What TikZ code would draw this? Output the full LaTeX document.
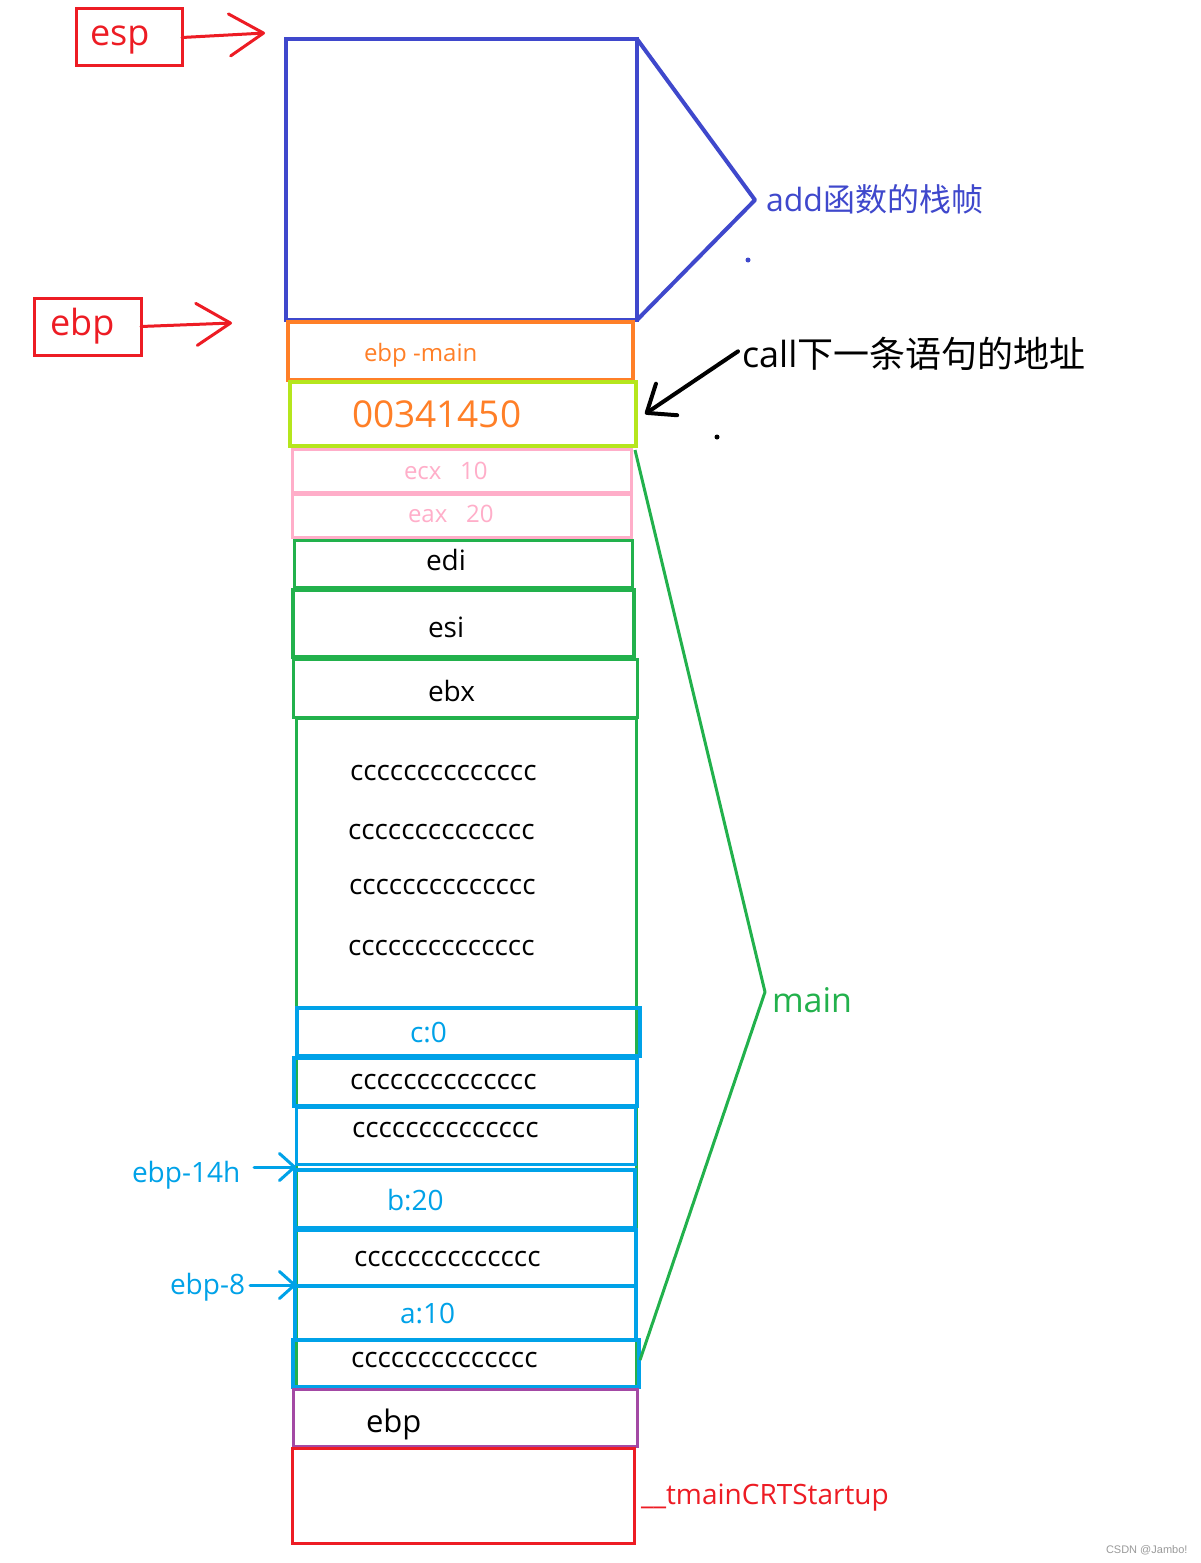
\documentclass[tikz,border=0pt]{standalone}
\usepackage{fontspec}
\setmainfont{Open Sans}
\newfontfamily\cjk{Noto Sans CJK SC}
\newfontfamily\wmfont{Liberation Sans}
\usetikzlibrary{arrows.meta,fit}
\definecolor{pred}{HTML}{ED1C24}
\definecolor{pindigo}{HTML}{3F48CC}
\definecolor{porange}{HTML}{FF7F27}
\definecolor{plime}{HTML}{B5E61D}
\definecolor{ppink}{HTML}{FFAEC9}
\definecolor{pgreen}{HTML}{22B14C}
\definecolor{psky}{HTML}{00A2E8}
\definecolor{ppurple}{HTML}{A349A4}
\definecolor{wmgray}{HTML}{9A9A9A}
\newcommand{\fs}[1]{\fontsize{#1}{#1}\selectfont}
\begin{document}
\begin{tikzpicture}[x=1pt,y=-1pt,
  box/.style={draw, rectangle, inner sep=0pt, outer sep=0pt},
  lbl/.style={anchor=base west, inner sep=0pt, outer sep=0pt},
  redarrow/.style={pred, line width=3pt, line cap=round, -{Straight Barb[length=34pt,width=42pt,round]}},
  skyarrow/.style={psky, line width=3pt, line cap=round, -{Straight Barb[length=15pt,width=27pt,round]}},
  blackarrow/.style={black, line width=4pt, line cap=round, -{Straight Barb[length=24pt,width=38pt,round]}},
  dot/.style={circle, fill, inner sep=0pt, minimum size=5pt}]
\useasboundingbox[fill=white] (0,0) rectangle (1201,1563);

% ---- left red labels
\node[box, pred, line width=3pt, fit={(76,9) (182,66)}] (espbox) {};
\node[lbl, text=pred, font=\fs{36}] (esptxt) at (90,46) {esp};
\coordinate (esptip) at (265,33);
\draw[redarrow] (espbox.east) -- (esptip);

\node[box, pred, line width=3pt, fit={(34,298) (141,355)}] (ebpbox) {};
\node[lbl, text=pred, font=\fs{36}] (ebptxt) at (50,335) {ebp};
\coordinate (ebptip) at (232,323);
\draw[redarrow] (ebpbox.east) -- (ebptip);

% ---- add frame
\node[box, pindigo, line width=4pt, fit={(286,39) (637,320)}] (addframe) {};
\coordinate (addtip) at (755,200);
\draw[pindigo, line width=4pt, line join=round] (addframe.north east) -- (addtip) -- (addframe.south east);
\node[lbl, text=pindigo, font=\fs{32}] (addtxt) at (766,211) {add{\cjk 函数的栈帧}};
\node[dot, pindigo] (bluedot) at (748,260) {};

% ---- saved ebp and return address
\node[box, porange, line width=4pt, fit={(288,322) (633,380)}] (mainebp) {};
\node[lbl, text=porange, font=\fs{24}] (mainebptxt) at (364,361) {ebp -main};

\node[box, plime, line width=4pt, fit={(290,382) (636,446)}] (retaddr) {};
\node[lbl, text=porange, font=\fs{37}] (retaddrtxt) at (352,427) {00341450};

\node[lbl, font=\fs{36}] (calltxt) at (742,367) {call{\cjk 下一条语句的地址}};
\coordinate (calltip) at (645,414);
\draw[blackarrow] (calltxt.west) ++(-4,-2) coordinate (callstart) -- (calltip);
\node[dot, black] (blackdot) at (717,437) {};

% ---- pushed registers
\node[box, ppink, line width=3pt, fit={(292,449) (631,492)}] (ecx) {};
\node[lbl, text=ppink, font=\fs{24}] (ecxtxt) at (404,479) {ecx~~~10};
\node[box, ppink, line width=3pt, fit={(292,494) (631,537)}] (eax) {};
\node[lbl, text=ppink, font=\fs{24}] (eaxtxt) at (408,522) {eax~~~20};

% ---- main frame (green)
\node[box, pgreen, line width=3pt, fit={(294,540) (632,587)}] (edi) {};
\node[lbl, font=\fs{28}] (editxt) at (426,570) {edi};
\node[box, pgreen, line width=4pt, fit={(293,590) (634,657)}] (esi) {};
\node[lbl, font=\fs{28}] (esitxt) at (428,637) {esi};
\node[box, pgreen, line width=3pt, fit={(293,659) (637,717)}] (ebx) {};
\node[lbl, font=\fs{28}] (ebxtxt) at (428,701) {ebx};
\node[box, pgreen, line width=3pt, fit={(296,718) (636,1386)}] (locals) {};
\node[lbl, font=\fs{28}] (cc1) at (350,780) {cccccccccccccc};
\node[lbl, font=\fs{28}] (cc2) at (348,839) {cccccccccccccc};
\node[lbl, font=\fs{28}] (cc3) at (349,894) {cccccccccccccc};
\node[lbl, font=\fs{28}] (cc4) at (348,955) {cccccccccccccc};

% ---- local variables (sky blue)
\node[box, psky, line width=4pt, fit={(297,1008) (640,1056)}] (cvar) {};
\node[lbl, text=psky, font=\fs{28}] (cvartxt) at (410,1042) {c:0};
\node[box, psky, line width=4pt, fit={(294,1058) (637,1106)}] (pad1) {};
\node[lbl, font=\fs{28}] (pad1txt) at (350,1089) {cccccccccccccc};
\node[box, psky, line width=3pt, fit={(296,1107) (635,1164)}] (pad2) {};
\node[lbl, font=\fs{28}] (pad2txt) at (352,1137) {cccccccccccccc};
\node[box, psky, line width=4pt, fit={(295,1170) (635,1228)}] (bvar) {};
\node[lbl, text=psky, font=\fs{28}] (bvartxt) at (387,1210) {b:20};
\node[box, psky, line width=4pt, fit={(295,1230) (636,1286)}] (pad3) {};
\node[lbl, font=\fs{28}] (pad3txt) at (354,1266) {cccccccccccccc};
\node[box, psky, line width=4pt, fit={(295,1286) (636,1340)}] (avar) {};
\node[lbl, text=psky, font=\fs{28}] (avartxt) at (400,1323) {a:10};
\node[box, psky, line width=4pt, fit={(293,1340) (639,1387)}] (pad4) {};
\node[lbl, font=\fs{28}] (pad4txt) at (351,1367) {cccccccccccccc};

% ---- ebp offsets
\node[lbl, text=psky, font=\fs{28}] (e14) at (132,1182) {ebp-14h};
\coordinate (e14start) at (254,1167);
\coordinate (e14tip) at (296,1167);
\draw[skyarrow] (e14start) -- (e14tip);
\node[lbl, text=psky, font=\fs{28}] (e8) at (170,1294) {ebp-8};
\coordinate (e8start) at (250,1285);
\coordinate (e8tip) at (296,1285);
\draw[skyarrow] (e8start) -- (e8tip);

% ---- main brace
\coordinate (mainstart) at (635,450);
\coordinate (maintip) at (765,992);
\coordinate (mainend) at (640,1360);
\draw[pgreen, line width=3pt, line join=round] (mainstart) -- (maintip) -- (mainend);
\node[lbl, text=pgreen, font=\fs{34}] (maintxt) at (772,1012) {main};

% ---- caller frames
\node[box, ppurple, line width=3pt, fit={(293,1389) (637,1446)}] (oldebp) {};
\node[lbl, font=\fs{31}] (oldebptxt) at (366,1432) {ebp};
\node[box, pred, line width=3pt, fit={(292,1448) (634,1543)}] (crt) {};
\node[lbl, text=pred, font=\fs{28}] (crttxt) at (641,1504) {\_\_tmainCRTStartup};

% ---- watermark
\node[lbl, text=wmgray, font=\wmfont\fs{11}] (wm) at (1106,1553) {CSDN @Jambo!};
\end{tikzpicture}
\end{document}
